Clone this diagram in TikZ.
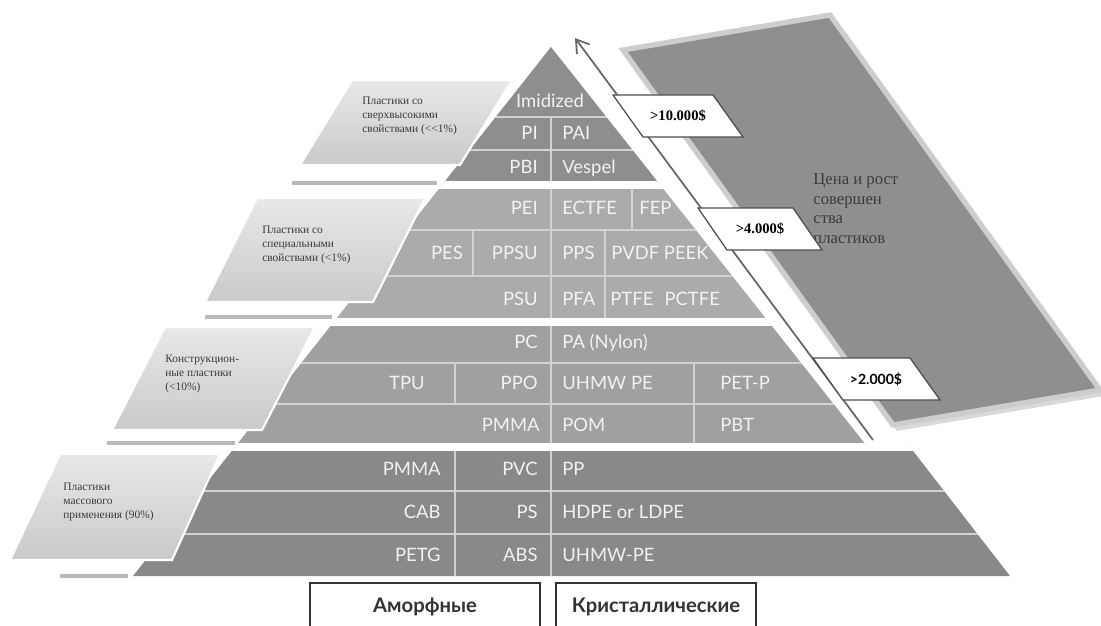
\documentclass[tikz,border=0pt]{standalone}
\usepackage{fontspec}
\setmainfont{Liberation Serif}
\newfontfamily\pyrfont{Lato}
\usetikzlibrary{calc,arrows.meta}
\definecolor{tierA}{HTML}{8E8E8E}
\definecolor{tierB}{HTML}{ABABAB}
\definecolor{tierC}{HTML}{A0A0A0}
\definecolor{tierD}{HTML}{898989}
\definecolor{rowline}{HTML}{D2D2D2}
\definecolor{pyrtext}{HTML}{F2F2F2}
\definecolor{panelgray}{HTML}{8F8F8F}
\definecolor{paneledge}{HTML}{CDCDCD}
\definecolor{labeltext}{HTML}{3C3C3C}
\tikzset{
  pyr/.style={font=\pyrfont\fontsize{10.5}{12}\selectfont, text=pyrtext, inner sep=0pt, text height=7.6pt, text depth=0pt},
  pyrl/.style={pyr, anchor=west},
  pyrr/.style={pyr, anchor=east},
  row/.style={rowline, line width=1pt},
  gap/.style={white, line width=4pt},
  tag/.style={draw=white, line width=1.2pt, top color=gray!18, bottom color=gray!42},
  tagtext/.style={font=\fontsize{6.5}{8}\selectfont, text=labeltext, align=left, anchor=north west, inner sep=0pt},
  shadowbar/.style={gray!55, line width=2.5pt},
  price/.style={draw=black!70, fill=white, line width=0.7pt},
  pricetext/.style={font=\bfseries\fontsize{8.3}{10}\selectfont, inner sep=0pt},
  kind/.style={draw=black!80, line width=0.7pt, minimum height=0.96cm},
  kindtext/.style={font=\pyrfont\bfseries\fontsize{11.5}{13}\selectfont, text=black!80}
}

\begin{document}
\begin{tikzpicture}[x=0.02cm, y=-0.02cm]
        \useasboundingbox (0,0) rectangle (1101,625);
        \clip (0,0) rectangle (1101,625);
        \fill[white] (0,0) rectangle (1101,625);

        \begin{scope}
        \clip (551,47) -- (867.6,447) -- (910,447) -- (1010,576) -- (133,576) -- cycle;
        \fill[tierA] (0,40) rectangle (1101,185);
        \fill[tierB] (0,185) rectangle (1101,322);
        \fill[tierC] (0,322) rectangle (1101,447);
        \fill[tierD] (0,447) rectangle (1101,580);
        \draw[row] (0,117) -- (1101,117) (0,150) -- (1101,150);
        \draw[row] (0,230) -- (1101,230) (0,276) -- (1101,276);
        \draw[row] (0,363) -- (1101,363) (0,404) -- (1101,404);
        \draw[row] (0,491) -- (1101,491) (0,534) -- (1101,534);
        \draw[row] (551,117) -- (551,576);
        \draw[row] (632,185) -- (632,230);
        \draw[row] (473,230) -- (473,276);
        \draw[row] (605,230) -- (605,322);
        \draw[row] (455,363) -- (455,404);
        \draw[row] (694,363) -- (694,447);
        \draw[row] (455,447) -- (455,576);
        \draw[gap] (0,185) -- (1101,185) (0,322) -- (1101,322) (0,447) -- (1101,447);
        \end{scope}

        \node[pyr] (imidized) at (550,101) {Imidized};
        \node[pyrr] (pi) at (538,133) {PI};
        \node[pyrl] (pai) at (562,133) {PAI};
        \node[pyrr] (pbi) at (538,167) {PBI};
        \node[pyrl] (vespel) at (562,167) {Vespel};
        \node[pyrr] (pei) at (538,208) {PEI};
        \node[pyrl] (ectfe) at (562,208) {ECTFE};
        \node[pyrl] (fep) at (639,208) {FEP};
        \node[pyr] (pes) at (447,253) {PES};
        \node[pyrr] (ppsu) at (538,253) {PPSU};
        \node[pyrl] (pps) at (562,253) {PPS};
        \node[pyrl] (pvdf) at (611,253) {PVDF PEEK};
        \node[pyrr] (psu) at (538,299) {PSU};
        \node[pyrl] (pfa) at (562,299) {PFA};
        \node[pyrl] (ptfe) at (610,299) {PTFE\hspace{0.6em}PCTFE};
        \node[pyrr] (pc) at (538,342) {PC};
        \node[pyrl] (nylon) at (562,342) {PA (Nylon)};
        \node[pyr] (tpu) at (407,383) {TPU};
        \node[pyrr] (ppo) at (538,383) {PPO};
        \node[pyrl] (uhmw) at (562,383) {UHMW PE};
        \node[pyrl] (petp) at (720,383) {PET-P};
        \node[pyrr] (pmmaA) at (540,425) {PMMA};
        \node[pyrl] (pom) at (562,425) {POM};
        \node[pyrl] (pbt) at (720,425) {PBT};
        \node[pyrr] (pmmaB) at (441,469) {PMMA};
        \node[pyrr] (pvc) at (538,469) {PVC};
        \node[pyrl] (pp) at (562,469) {PP};
        \node[pyrr] (cab) at (441,512) {CAB};
        \node[pyrr] (ps) at (538,512) {PS};
        \node[pyrl] (hdpe) at (562,512) {HDPE or LDPE};
        \node[pyrr] (petg) at (441,555) {PETG};
        \node[pyrr] (abs) at (538,555) {ABS};
        \node[pyrl] (uhmwB) at (562,555) {UHMW-PE};

        \fill[gray!30] (627,56) -- (834,21) -- (1104,396) -- (897,431) -- cycle;
        \fill[panelgray] (623,50) -- (830,15) -- (1100,390) -- (893,425) -- cycle;
        \draw[paneledge, line width=3pt] (623,50) -- (830,15) -- (1100,390) -- (893,425) -- cycle;
        \node[font=\fontsize{9.5}{11.3}\selectfont, text=labeltext, align=left, anchor=north west, inner sep=0pt] (growth) at (813,173) {Цена и рост\\совершен\\ства\\пластиков};

        \coordinate (risefoot) at (873,440);
        \coordinate (risetip) at (575,38);
        \draw[black!60, line width=1pt, -{Straight Barb[length=7pt,width=9pt]}] (risefoot) -- (risetip);

        \draw[price] (613,95) -- (713,95) -- (743,137) -- (643,137) -- cycle;
        \node[pricetext] (tenk) at (678,116) {>10.000\$};
        \draw[price] (698,208) -- (793,208) -- (822,250) -- (727,250) -- cycle;
        \node[pricetext] (fourk) at (760,229) {>4.000\$};
        \draw[price] (813,358) -- (910,358) -- (940,400) -- (843,400) -- cycle;
        \node[pricetext, font=\pyrfont\bfseries\fontsize{8}{9}\selectfont] (twok) at (876,379) {>2.000\$};

        \shade[tag] (352,80) -- (512,80) -- (460,165) -- (300,165) -- cycle;
        \node[tagtext] (superior) at (362,97) {Пластики со\\сверхвысокими\\свойствами (<{}<1\%)};
        \draw[shadowbar] (292,183) -- (437,183);
        \shade[tag] (257,198) -- (425,198) -- (373,302) -- (205,302) -- cycle;
        \node[tagtext] (special) at (262,226) {Пластики со\\специальными\\свойствами (<1\%)};
        \draw[shadowbar] (205,317) -- (332,317);
        \shade[tag] (165,327) -- (315,327) -- (262,430) -- (112,430) -- cycle;
        \node[tagtext] (engineering) at (165,355) {Конструкцион-\\ные пластики\\(<10\%)};
        \draw[shadowbar] (107,443) -- (235,443);
        \shade[tag] (60,454) -- (220,454) -- (172,560) -- (10,560) -- cycle;
        \node[tagtext] (commodity) at (63,483) {Пластики\\массового\\применения (90\%)};
        \draw[shadowbar] (60,576) -- (128,576);

        \node[kind, minimum width=4.6cm, kindtext] (amorph) at (425,607) {Аморфные};
        \node[kind, minimum width=4cm, kindtext] (cryst) at (656,607) {Кристаллические};
    \end{tikzpicture}
\end{document}
